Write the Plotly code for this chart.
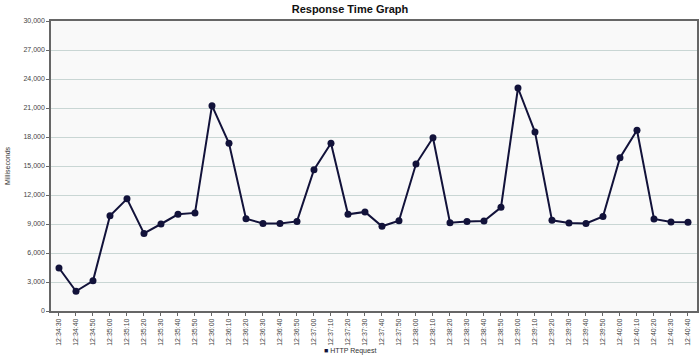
import plotly.graph_objects as go

times = ["12:34:30", "12:34:40", "12:34:50", "12:35:00", "12:35:10", "12:35:20", "12:35:30", "12:35:40",
         "12:35:50", "12:36:00", "12:36:10", "12:36:20", "12:36:30", "12:36:40", "12:36:50", "12:37:00",
         "12:37:10", "12:37:20", "12:37:30", "12:37:40", "12:37:50", "12:38:00", "12:38:10", "12:38:20",
         "12:38:30", "12:38:40", "12:38:50", "12:39:00", "12:39:10", "12:39:20", "12:39:30", "12:39:40",
         "12:39:50", "12:40:00", "12:40:10", "12:40:20", "12:40:30", "12:40:40"]
http_request_ms = [4450, 2040, 3130, 9860, 11600, 8030, 9000, 10000,
                   10150, 21240, 17350, 9550, 9050, 9040, 9270, 14620,
                   17350, 10000, 10250, 8760, 9340, 15200, 17930, 9130,
                   9270, 9300, 10720, 23070, 18510, 9380, 9100, 9060,
                   9780, 15860, 18700, 9520, 9200, 9170]
y_ticks = [0, 3000, 6000, 9000, 12000, 15000, 18000, 21000, 24000, 27000, 30000]
y_tick_labels = ["0", "3,000", "6,000", "9,000", "12,000", "15,000", "18,000", "21,000", "24,000", "27,000", "30,000"]

line_color = "#12123a"
font_family = "Liberation Sans, Arial, sans-serif"

fig = go.Figure()
fig.add_trace(go.Scatter(
    x=list(range(len(times))), y=http_request_ms, mode="lines+markers",
    name="HTTP Request",
    line=dict(color=line_color, width=2),
    marker=dict(color=line_color, size=7, symbol="circle"),
    showlegend=False,
))

fig.update_layout(
    width=700, height=361,
    margin=dict(l=51, r=3, t=21, b=50, autoexpand=False),
    paper_bgcolor="white",
    plot_bgcolor="#f9f9f9",
    font=dict(family=font_family, size=7, color="#444444"),
    title=dict(text="<b>Response Time Graph</b>", x=0.5, xref="container", xanchor="center",
               y=1 - 9 / 361, yref="container", yanchor="middle",
               font=dict(family=font_family, size=11, color="#111111")),
    annotations=[dict(
        text="<span style='color:%s'>■</span> HTTP Request" % line_color,
        x=(350 - 51) / (700 - 51 - 3), y=(361 - 50 - 351) / (361 - 21 - 50),
        xref="paper", yref="paper", xanchor="center", yanchor="middle", showarrow=False,
        font=dict(family=font_family, size=7, color="#333333"),
    )],
)

fig.update_xaxes(
    range=[-0.47, len(times) - 1 + 0.53],
    tickmode="array", tickvals=list(range(len(times))), ticktext=times,
    tickangle=-90, ticks="outside", ticklen=3, tickcolor="#666666",
    showgrid=False, zeroline=False, automargin=False,
    showline=True, linecolor="#666666", linewidth=1.5, mirror=True,
    tickfont=dict(size=7, color="#444444"),
)
fig.update_yaxes(
    range=[0, 30000],
    tickmode="array", tickvals=y_ticks, ticktext=y_tick_labels,
    ticks="outside", ticklen=3, tickcolor="#666666",
    showgrid=True, gridcolor="#c9d6d4", gridwidth=1, zeroline=False, automargin=False,
    showline=True, linecolor="#666666", linewidth=1.5, mirror=True,
    tickfont=dict(size=7, color="#444444"),
    title=dict(text="Milliseconds", standoff=12, font=dict(size=7, color="#333333")),
)

fig.write_html("out.html", config={"displayModeBar": False},
               post_script="document.body.style.margin='0';document.body.style.padding='0';")
